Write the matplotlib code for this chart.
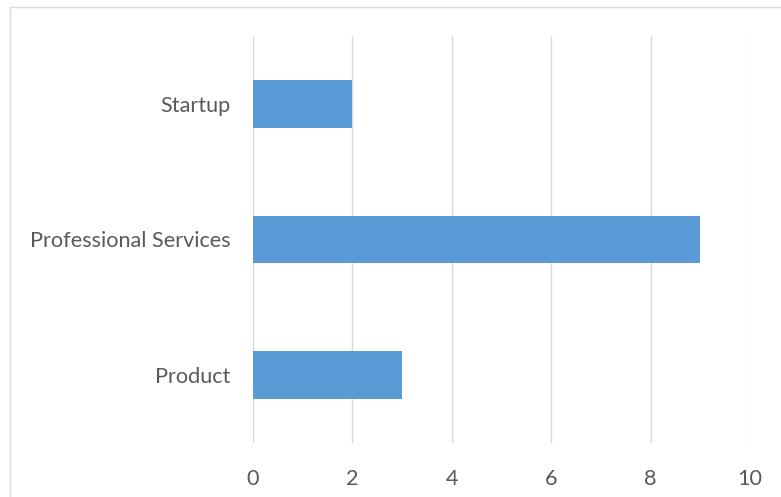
import matplotlib
matplotlib.use("Agg")
import matplotlib.pyplot as plt
from matplotlib.lines import Line2D

categories = ["Product", "Professional Services", "Startup"]
values = [3, 9, 2]
x_ticks = [0, 2, 4, 6, 8, 10]

W, H, DPI = 781, 497, 100
fig = plt.figure(figsize=(W / DPI, H / DPI), dpi=DPI)
fig.patch.set_facecolor("white")

left, right, top, bottom = 253, 750, 36, 443
ax = fig.add_axes([left / W, 1 - bottom / H, (right - left) / W, (bottom - top) / H])

ax.barh(range(len(categories)), values, height=0.35, color="#5B9BD5", zorder=3)
ax.set_xlim(0, 10)
ax.set_ylim(-0.5, len(categories) - 0.5)
ax.set_xticks(x_ticks)
ax.set_xticklabels([str(t) for t in x_ticks])
ax.set_yticks(range(len(categories)))
ax.set_yticklabels(categories)

ax.grid(axis="x", color="#D9D9D9", linewidth=1.0, zorder=0)
for s in ax.spines.values():
    s.set_visible(False)
ax.tick_params(axis="both", length=0, labelsize=15.6, labelcolor="#595959")
ax.tick_params(axis="y", pad=16)
ax.tick_params(axis="x", pad=19)
for lab in ax.get_xticklabels() + ax.get_yticklabels():
    lab.set_fontfamily("Lato")

# chart frame
fig.add_artist(Line2D([10 / W, 10 / W], [0, 1 - 7 / H], transform=fig.transFigure,
                      color="#D9D9D9", linewidth=1.0))
fig.add_artist(Line2D([10 / W, 1], [1 - 7 / H, 1 - 7 / H], transform=fig.transFigure,
                      color="#D9D9D9", linewidth=1.0))

fig.savefig("out.png", dpi=DPI)
